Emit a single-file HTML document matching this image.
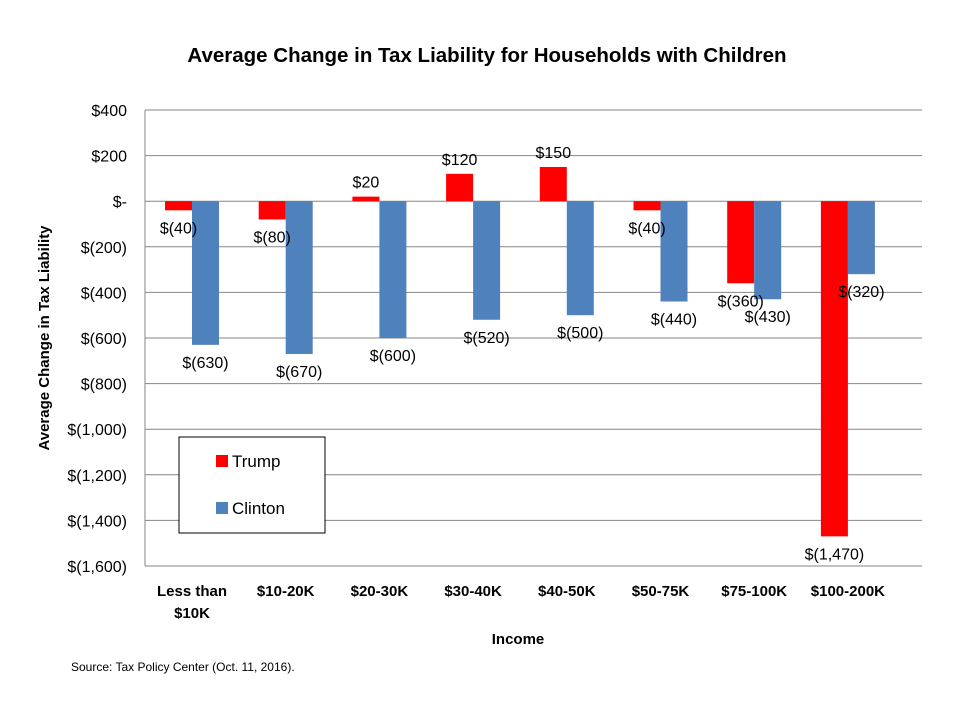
<!DOCTYPE html>
<html><head><meta charset="utf-8">
<style>
body{margin:0;background:#fff;}
svg{display:block;font-family:"Liberation Sans",Calibri,sans-serif;}
</style></head>
<body>
<svg id="chart" width="960" height="720">
<text x="487" y="62" text-anchor="middle" font-size="20.5" font-weight="bold">Average Change in Tax Liability for Households with Children</text>
<text transform="translate(49,338) rotate(-90)" text-anchor="middle" font-size="15" font-weight="bold">Average Change in Tax Liability</text>
<text x="518" y="644" text-anchor="middle" font-size="15" font-weight="bold">Income</text>
<text x="71" y="671" font-size="12">Source: Tax Policy Center (Oct. 11, 2016).</text>
<g id="grid"></g><g id="bars"></g><g id="labels"></g>
<g>
<rect x="179" y="437" width="146" height="96" fill="#fff" stroke="#000" stroke-width="1"/>
<rect x="216" y="455" width="12" height="12" fill="#FF0000"/>
<text x="232" y="467" font-size="17">Trump</text>
<rect x="216" y="502" width="12" height="12" fill="#4F81BD"/>
<text x="232" y="514" font-size="17">Clinton</text>
</g>
</svg>
<script>
const categories=[["Less than","$10K"],["$10-20K"],["$20-30K"],["$30-40K"],["$40-50K"],["$50-75K"],["$75-100K"],["$100-200K"]];
const trump=[-40,-80,20,120,150,-40,-360,-1470];
const clinton=[-630,-670,-600,-520,-500,-440,-430,-320];
const ticks=[400,200,0,-200,-400,-600,-800,-1000,-1200,-1400,-1600];
const tickLabels=["$400","$200","$-","$(200)","$(400)","$(600)","$(800)","$(1,000)","$(1,200)","$(1,400)","$(1,600)"];
const NS="http://www.w3.org/2000/svg";
const L=145,R=922,T=110,B=566,yMax=400,yMin=-1600;
function y(v){return T+(yMax-v)/(yMax-yMin)*(B-T);}
const step=93.7;
function cx(i){return 192+step*i;}
function mk(tag,attrs,parent){const e=document.createElementNS(NS,tag);for(const k in attrs)e.setAttribute(k,attrs[k]);parent.appendChild(e);return e;}
function fmt(v){return v<0?"$("+Math.abs(v).toLocaleString("en-US")+")":"$"+v.toLocaleString("en-US");}
const grid=document.getElementById("grid"),bars=document.getElementById("bars"),labels=document.getElementById("labels");
ticks.forEach((t,i)=>{
 const ln=mk("line",{x1:L,x2:R,y1:y(t),y2:y(t),stroke:"#868686","stroke-width":1},grid);
 
 
 const tx=mk("text",{x:127,y:y(t)+6,"text-anchor":"end","font-size":16},grid);
 tx.textContent=tickLabels[i];
 
 
});
const ax=mk("line",{x1:L,x2:L,y1:T,y2:B,stroke:"#868686","stroke-width":1},grid);


const bwid=27;
categories.forEach((c,i)=>{
 const lab=mk("text",{x:cx(i),y:596,"text-anchor":"middle","font-size":15,"font-weight":"bold"},labels);
 
 
 c.forEach((line,j)=>{const ts=mk("tspan",{x:cx(i),dy:j?22:0},lab);ts.textContent=line;});
 [[trump,"#FF0000",-bwid,"trump"],[clinton,"#4F81BD",0,"clinton"]].forEach(([arr,col,off,nm])=>{
  const v=arr[i],y0=y(0),y1=y(v);
  const r=mk("rect",{x:cx(i)+off,y:Math.min(y0,y1),width:bwid,height:Math.abs(y1-y0),fill:col},bars);
  
  
  const t=mk("text",{x:cx(i)+off+bwid/2,y:v<0?y1+23:y1-9,"text-anchor":"middle","font-size":16},labels);
  t.textContent=fmt(v);
  
  
 });
});
</script>
</body></html>
